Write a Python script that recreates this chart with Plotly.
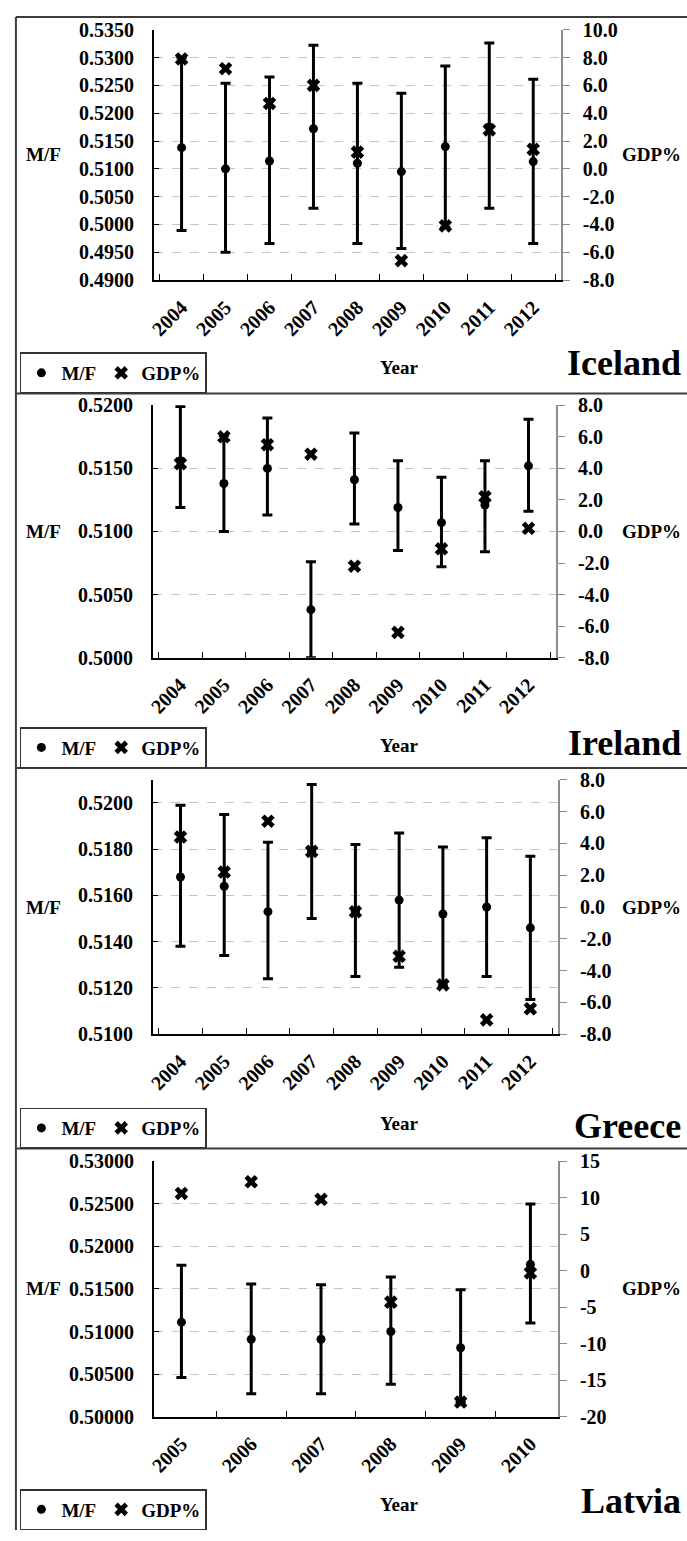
import plotly.graph_objects as go

W, H = 687, 1541
FONT = "Liberation Serif"

# ---------------------------------------------------------------------------
# Data (M/F ratio with its interval, GDP growth %)
# ---------------------------------------------------------------------------
iceland_years = ["2004", "2005", "2006", "2007", "2008", "2009", "2010", "2011", "2012"]
iceland_mf = [0.5138, 0.5100, 0.5114, 0.5172, 0.5110, 0.5095, 0.5140, 0.5175, 0.5113]
iceland_mf_hi = [0.5299, 0.5254, 0.5265, 0.5322, 0.5254, 0.5236, 0.5285, 0.5326, 0.5261]
iceland_mf_lo = [0.4989, 0.4950, 0.4966, 0.5029, 0.4966, 0.4957, 0.4995, 0.5029, 0.4966]
iceland_gdp = [7.9, 7.2, 4.7, 6.0, 1.2, -6.6, -4.1, 2.8, 1.4]
iceland_mf_ticks = [0.4900, 0.4950, 0.5000, 0.5050, 0.5100, 0.5150, 0.5200, 0.5250, 0.5300, 0.5350]
iceland_gdp_ticks = [-8, -6, -4, -2, 0, 2, 4, 6, 8, 10]

ireland_years = ["2004", "2005", "2006", "2007", "2008", "2009", "2010", "2011", "2012"]
ireland_mf = [0.5156, 0.5138, 0.5150, 0.5038, 0.5141, 0.5119, 0.5107, 0.5121, 0.5152]
ireland_mf_hi = [0.5199, 0.5176, 0.5190, 0.5076, 0.5178, 0.5156, 0.5143, 0.5156, 0.5189]
ireland_mf_lo = [0.5119, 0.5100, 0.5113, 0.5000, 0.5106, 0.5085, 0.5072, 0.5084, 0.5116]
ireland_gdp = [4.3, 6.0, 5.5, 4.9, -2.2, -6.4, -1.1, 2.2, 0.2]
ireland_mf_ticks = [0.5000, 0.5050, 0.5100, 0.5150, 0.5200]
ireland_gdp_ticks = [-8, -6, -4, -2, 0, 2, 4, 6, 8]

greece_years = ["2004", "2005", "2006", "2007", "2008", "2009", "2010", "2011", "2012"]
greece_mf = [0.5168, 0.5164, 0.5153, 0.5179, 0.5153, 0.5158, 0.5152, 0.5155, 0.5146]
greece_mf_hi = [0.5199, 0.5195, 0.5183, 0.5208, 0.5182, 0.5187, 0.5181, 0.5185, 0.5177]
greece_mf_lo = [0.5138, 0.5134, 0.5124, 0.5150, 0.5125, 0.5129, 0.5121, 0.5125, 0.5115]
greece_gdp = [4.4, 2.2, 5.4, 3.5, -0.3, -3.1, -4.9, -7.1, -6.4]
greece_mf_ticks = [0.5100, 0.5120, 0.5140, 0.5160, 0.5180, 0.5200]
greece_gdp_ticks = [-8, -6, -4, -2, 0, 2, 4, 6, 8]

latvia_years = ["2005", "2006", "2007", "2008", "2009", "2010"]
latvia_mf = [0.5111, 0.5091, 0.5091, 0.5100, 0.5081, 0.5179]
latvia_mf_hi = [0.5178, 0.5156, 0.5155, 0.5164, 0.5149, 0.5250]
latvia_mf_lo = [0.5046, 0.5027, 0.5027, 0.5038, 0.5017, 0.5110]
latvia_gdp = [10.6, 12.2, 9.8, -4.3, -18.0, -0.3]
latvia_mf_ticks = [0.50000, 0.50500, 0.51000, 0.51500, 0.52000, 0.52500, 0.53000]
latvia_gdp_ticks = [-20, -15, -10, -5, 0, 5, 10, 15]


def px(x):
    return x / W


def py(y):
    return 1 - y / H


# per-panel layout: data refs + pixel boxes (left, right, top, bottom)
panels = [
    dict(name="Iceland", years=iceland_years, mf=iceland_mf, hi=iceland_mf_hi, lo=iceland_mf_lo,
         gdp=iceland_gdp, mf_ticks=iceland_mf_ticks, gdp_ticks=iceland_gdp_ticks,
         mf_fmt="{:.4f}", gdp_fmt="{:.1f}", mf_range=[0.49, 0.535], gdp_range=[-8, 10],
         box=(149, 560, 19, 273), frame_top=6, frame_bot=388, title_y=357, year_y=362),
    dict(name="Ireland", years=ireland_years, mf=ireland_mf, hi=ireland_mf_hi, lo=ireland_mf_lo,
         gdp=ireland_gdp, mf_ticks=ireland_mf_ticks, gdp_ticks=ireland_gdp_ticks,
         mf_fmt="{:.4f}", gdp_fmt="{:.1f}", mf_range=[0.50, 0.52], gdp_range=[-8, 8],
         box=(148, 555, 400, 656), frame_top=388, frame_bot=768, title_y=743, year_y=745),
    dict(name="Greece", years=greece_years, mf=greece_mf, hi=greece_mf_hi, lo=greece_mf_lo,
         gdp=greece_gdp, mf_ticks=greece_mf_ticks, gdp_ticks=greece_gdp_ticks,
         mf_fmt="{:.4f}", gdp_fmt="{:.1f}", mf_range=[0.51, 0.521], gdp_range=[-8, 8],
         box=(148, 557, 780, 1038), frame_top=768, frame_bot=1154, title_y=1131, year_y=1129),
    dict(name="Latvia", years=latvia_years, mf=latvia_mf, hi=latvia_mf_hi, lo=latvia_mf_lo,
         gdp=latvia_gdp, mf_ticks=latvia_mf_ticks, gdp_ticks=latvia_gdp_ticks,
         mf_fmt="{:.5f}", gdp_fmt="{:d}", mf_range=[0.50, 0.53], gdp_range=[-20, 15],
         box=(149, 557, 1167, 1426), frame_top=1154, frame_bot=1541, title_y=1512, year_y=1515),
]

fig = go.Figure()
layout = {}
annotations = []
shapes = []
tick_font = dict(family=FONT, size=20, color="black", weight="bold")
label_font = dict(family=FONT, size=19, color="black", weight="bold")

for i, p in enumerate(panels):
    n = i + 1
    xa, ya, ya2 = f"x{n}", f"y{n}", f"y{n + 4}"
    leg = "legend" if i == 0 else f"legend{n}"
    left, right, top, bottom = p["box"]

    fig.add_trace(go.Scatter(
        x=p["years"], y=p["mf"], xaxis=xa, yaxis=ya, mode="markers", name="M/F",
        marker=dict(symbol="circle", size=9, color="black"),
        error_y=dict(type="data", symmetric=False,
                     array=[h - v for h, v in zip(p["hi"], p["mf"])],
                     arrayminus=[v - l for v, l in zip(p["mf"], p["lo"])],
                     color="black", thickness=3, width=5),
        legend=leg,
    ))
    fig.add_trace(go.Scatter(
        x=p["years"], y=p["gdp"], xaxis=xa, yaxis=ya2, mode="markers", name="GDP%",
        marker=dict(symbol="x", size=12, color="black"),
        legend=leg,
    ))

    layout[f"xaxis{n}"] = dict(
        domain=[px(left), px(right)], anchor=ya, type="category",
        showline=True, linecolor="black", linewidth=1.5,
        ticks="inside", ticklen=6, tickcolor="black", tickson="boundaries",
        tickangle=-45, tickfont=tick_font, ticklabelstandoff=6,
        showgrid=False, zeroline=False, fixedrange=True,
    )
    layout[f"yaxis{n}"] = dict(
        domain=[py(bottom), py(top)], anchor=xa, range=p["mf_range"],
        tickmode="array", tickvals=p["mf_ticks"],
        ticktext=[p["mf_fmt"].format(v) for v in p["mf_ticks"]],
        showline=True, linecolor="black", linewidth=1.5,
        ticks="inside", ticklen=6, tickcolor="black",
        tickfont=tick_font, ticklabelstandoff=14,
        showgrid=True, gridcolor="#c4c4c4", griddash="dash", gridwidth=1,
        zeroline=False,
    )
    layout[f"yaxis{n + 4}"] = dict(
        overlaying=ya, side="right", anchor=xa, range=p["gdp_range"],
        tickmode="array", tickvals=p["gdp_ticks"],
        ticktext=[p["gdp_fmt"].format(v) for v in p["gdp_ticks"]],
        showline=True, linecolor="#8c8c8c", linewidth=1.5,
        ticks="outside", ticklen=7, tickcolor="#8c8c8c",
        tickfont=tick_font, ticklabelstandoff=9,
        showgrid=False, zeroline=False,
    )

    layout[leg] = dict(
        orientation="h", x=px(14), y=py(p["frame_bot"]), xanchor="left", yanchor="bottom",
        bgcolor="white", bordercolor="#333333", borderwidth=1.5,
        font=label_font, itemclick=False, itemdoubleclick=False,
    )

    mid = (top + bottom) / 2
    annotations += [
        dict(text="M/F", x=px(38), y=py(mid), xref="paper", yref="paper",
             xanchor="center", yanchor="middle", showarrow=False, font=label_font),
        dict(text="GDP%", x=px(651), y=py(mid), xref="paper", yref="paper",
             xanchor="center", yanchor="middle", showarrow=False, font=label_font),
        dict(text="Year", x=px(397), y=py(p["year_y"]), xref="paper", yref="paper",
             xanchor="center", yanchor="middle", showarrow=False, font=label_font),
        dict(text=p["name"], x=px(683), y=py(p["title_y"]), xref="paper", yref="paper",
             xanchor="right", yanchor="middle", showarrow=False,
             font=dict(family=FONT, size=36, color="black", weight="bold")),
    ]
    # horizontal frame line at the top of each panel
    shapes.append(dict(type="line", xref="paper", yref="paper",
                       x0=px(10), x1=1, y0=py(p["frame_top"]), y1=py(p["frame_top"]),
                       line=dict(color="#3c3c3c", width=2)))

# left frame edge
shapes.append(dict(type="line", xref="paper", yref="paper",
                   x0=px(10), x1=px(10), y0=py(6), y1=0,
                   line=dict(color="#3c3c3c", width=2)))

fig.update_layout(
    width=W, height=H,
    margin=dict(l=0, r=0, t=0, b=0),
    paper_bgcolor="white", plot_bgcolor="white",
    font=dict(family=FONT, color="black"),
    annotations=annotations, shapes=shapes,
    **layout,
)

fig.write_html(
    "out.html",
    config={"displayModeBar": False},
    post_script="document.body.style.margin='0';document.body.style.overflow='hidden';",
)
